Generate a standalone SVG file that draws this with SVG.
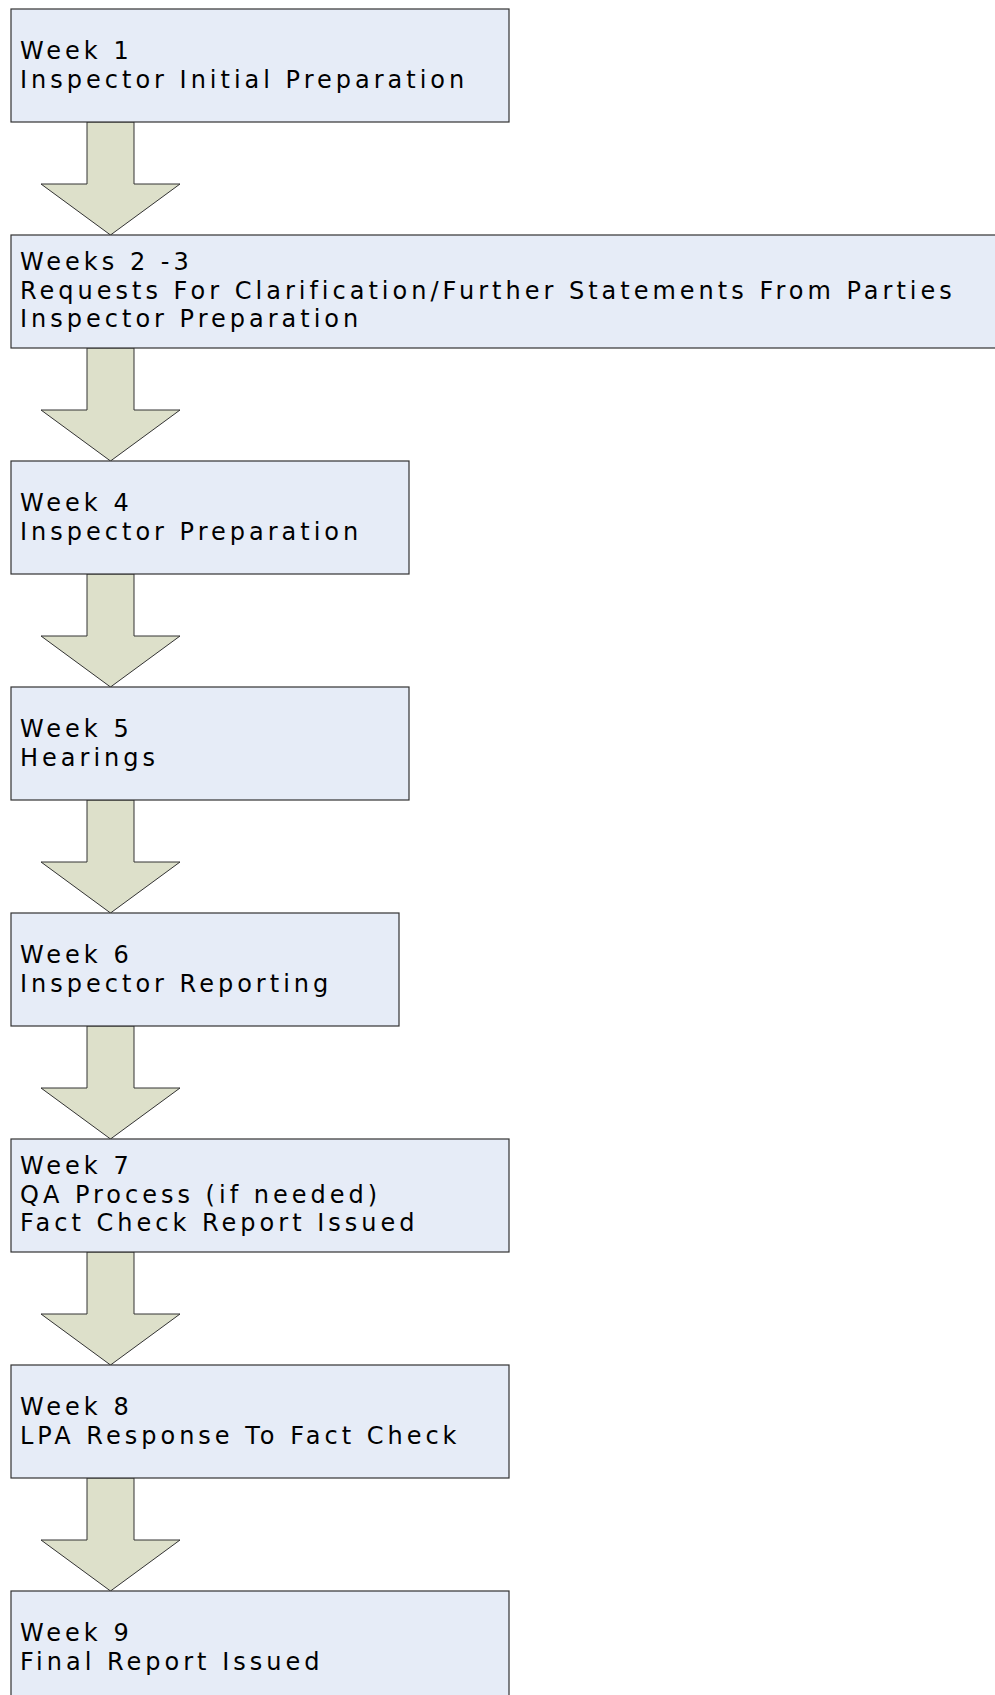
<svg xmlns="http://www.w3.org/2000/svg" width="995" height="1695" viewBox="0 0 995 1695">
<style>
.box{fill:#E6ECF7;stroke:#333333;stroke-width:1.2}
.arr{fill:#DDE0CA;stroke:#333333;stroke-width:1}
.t{font-family:"DejaVu Sans",Verdana,sans-serif;font-size:24px;fill:#000000;letter-spacing:4px}
</style>
<rect width="995" height="1695" fill="#ffffff"/>
<g id="connectors">
<polygon class="arr" points="87,122 134,122 134,184 180,184 110.5,235 41,184 87,184"/>
<polygon class="arr" points="87,348 134,348 134,410 180,410 110.5,461 41,410 87,410"/>
<polygon class="arr" points="87,574 134,574 134,636 180,636 110.5,687 41,636 87,636"/>
<polygon class="arr" points="87,800 134,800 134,862 180,862 110.5,913 41,862 87,862"/>
<polygon class="arr" points="87,1026 134,1026 134,1088 180,1088 110.5,1139 41,1088 87,1088"/>
<polygon class="arr" points="87,1252 134,1252 134,1314 180,1314 110.5,1365 41,1314 87,1314"/>
<polygon class="arr" points="87,1478 134,1478 134,1540 180,1540 110.5,1591 41,1540 87,1540"/>
</g>
<g id="n1"><rect class="box" x="11" y="9" width="498" height="113"/>
<text class="t" x="20" y="59">Week 1</text><text class="t" x="20" y="87.5">Inspector Initial Preparation</text></g>
<g id="n2"><rect class="box" x="11" y="235" width="1000" height="113"/>
<text class="t" x="20" y="270">Weeks 2 -3</text><text class="t" x="20" y="298.5">Requests For Clarification/Further Statements From Parties</text><text class="t" x="20" y="327">Inspector Preparation</text></g>
<g id="n3"><rect class="box" x="11" y="461" width="398" height="113"/>
<text class="t" x="20" y="511">Week 4</text><text class="t" x="20" y="539.5">Inspector Preparation</text></g>
<g id="n4"><rect class="box" x="11" y="687" width="398" height="113"/>
<text class="t" x="20" y="737">Week 5</text><text class="t" x="20" y="765.5">Hearings</text></g>
<g id="n5"><rect class="box" x="11" y="913" width="388" height="113"/>
<text class="t" x="20" y="963">Week 6</text><text class="t" x="20" y="991.5">Inspector Reporting</text></g>
<g id="n6"><rect class="box" x="11" y="1139" width="498" height="113"/>
<text class="t" x="20" y="1174">Week 7</text><text class="t" x="20" y="1202.5">QA Process (if needed)</text><text class="t" x="20" y="1231">Fact Check Report Issued</text></g>
<g id="n7"><rect class="box" x="11" y="1365" width="498" height="113"/>
<text class="t" x="20" y="1415">Week 8</text><text class="t" x="20" y="1443.5">LPA Response To Fact Check</text></g>
<g id="n8"><rect class="box" x="11" y="1591" width="498" height="113"/>
<text class="t" x="20" y="1641">Week 9</text><text class="t" x="20" y="1669.5">Final Report Issued</text></g>
</svg>
